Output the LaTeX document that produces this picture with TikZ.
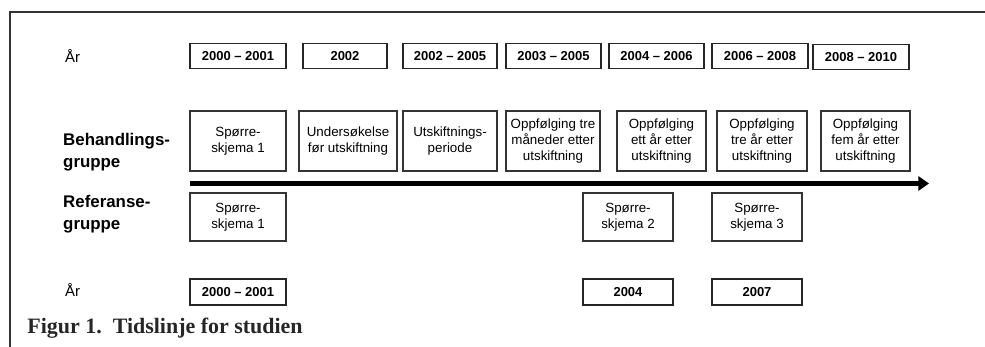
\documentclass[tikz,border=0pt]{standalone}
\usepackage{fontspec}
\setmainfont{Liberation Serif}
\setsansfont{Liberation Sans}
\usepackage{tikz}
\usetikzlibrary{arrows.meta}

\tikzset{
  aar/.style={draw=black!85, line width=0.8pt, font=\sffamily\bfseries\fontsize{7.4}{9}\selectfont, minimum height=0.5cm, inner sep=0pt},
  hendelse/.style={draw=black!80, line width=0.6pt, font=\sffamily\fontsize{7.6}{9}\selectfont, align=center, inner sep=0pt},
  gruppe/.style={anchor=west, align=left, font=\sffamily\bfseries\fontsize{9.6}{12.5}\selectfont},
  aarlabel/.style={anchor=west, font=\sffamily\fontsize{8.5}{10}\selectfont}
}

\begin{document}
\begin{tikzpicture}[x=0.02cm, y=-0.02cm]
\useasboundingbox (0,0) rectangle (985,347);
\draw [line width=1.2pt, black!80] (10,347) -- (10,12) -- (985,12);
\node [aarlabel] (aartopp) at (59,56) {År};
\node [aar, minimum width=1.92cm] (a1) at (238,56) {2000 -- 2001};
\node [aar, minimum width=1.68cm] (a2) at (345,56) {2002};
\node [aar, minimum width=1.88cm] (a3) at (450,56) {2002 -- 2005};
\node [aar, minimum width=1.90cm] (a4) at (553.5,56) {2003 -- 2005};
\node [aar, minimum width=1.90cm] (a5) at (656.5,56) {2004 -- 2006};
\node [aar, minimum width=1.92cm] (a6) at (760,56) {2006 -- 2008};
\node [aar, minimum width=1.92cm] (a7) at (861,57) {2008 -- 2010};
\node [gruppe] (beh) at (57,152) {Behandlings-\\gruppe};
\node [hendelse, minimum width=1.92cm, minimum height=1.2cm] (b1) at (238,141) {Spørre-\\skjema 1};
\node [hendelse, minimum width=1.96cm, minimum height=1.2cm] (b2) at (348,141) {Undersøkelse\\før utskiftning};
\node [hendelse, minimum width=1.88cm, minimum height=1.2cm] (b3) at (450,141) {Utskiftnings-\\periode};
\node [hendelse, minimum width=1.88cm, minimum height=1.2cm] (b4) at (553,141) {Oppfølging tre\\måneder etter\\utskiftning};
\node [hendelse, minimum width=1.78cm, minimum height=1.2cm] (b5) at (661.5,141) {Oppfølging\\ett år etter\\utskiftning};
\node [hendelse, minimum width=1.80cm, minimum height=1.2cm] (b6) at (762,141) {Oppfølging\\tre år etter\\utskiftning};
\node [hendelse, minimum width=1.78cm, minimum height=1.2cm] (b7) at (865.5,141) {Oppfølging\\fem år etter\\utskiftning};
\coordinate (start) at (190,183.5);
\coordinate (slutt) at (929,183.5);
\draw [line width=2.3pt, -{Triangle[length=6pt, width=8pt]}] (start) -- (slutt);
\node [gruppe] (ref) at (57,214) {Referanse-\\gruppe};
\node [hendelse, minimum width=1.92cm, minimum height=0.96cm] (r1) at (238,217) {Spørre-\\skjema 1};
\node [hendelse, minimum width=1.80cm, minimum height=0.96cm] (r2) at (628,217) {Spørre-\\skjema 2};
\node [hendelse, minimum width=1.80cm, minimum height=0.96cm] (r3) at (757,217) {Spørre-\\skjema 3};
\node [aarlabel] (aarbunn) at (59,290) {År};
\node [aar, minimum width=1.92cm, minimum height=0.52cm] (c1) at (238,292) {2000 -- 2001};
\node [aar, minimum width=1.80cm, minimum height=0.52cm] (c2) at (628,292) {2004};
\node [aar, minimum width=1.80cm, minimum height=0.52cm] (c3) at (757,292) {2007};
\node [anchor=west, font=\bfseries\fontsize{12.5}{14}\selectfont, black!85, inner sep=0pt] (figur) at (27,328) {Figur 1.\ \ Tidslinje for studien};
\end{tikzpicture}
\end{document}
